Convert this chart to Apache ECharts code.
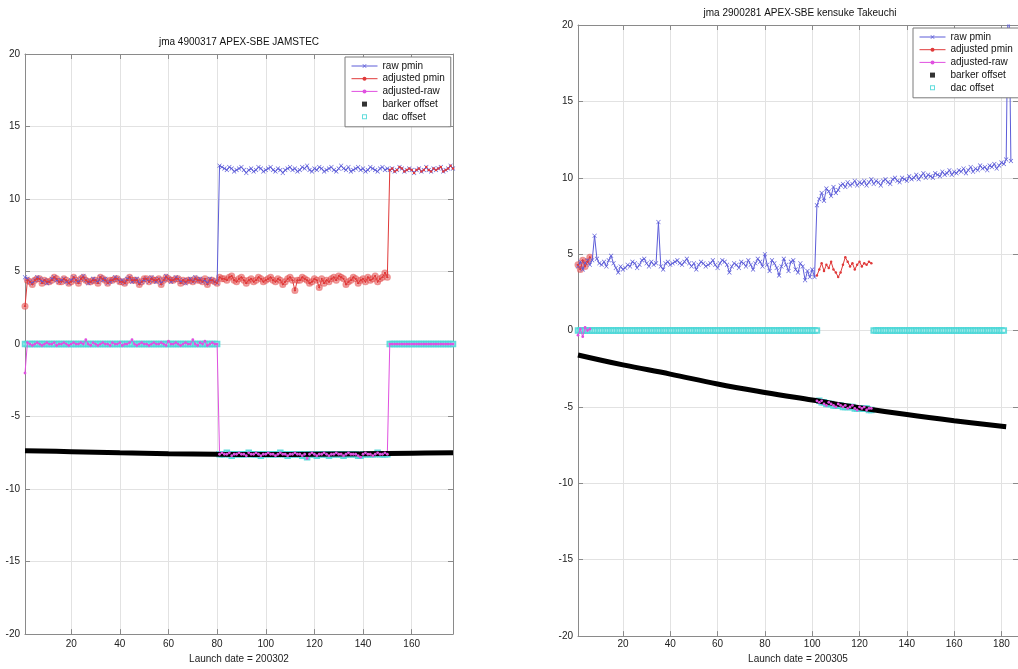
<!DOCTYPE html>
<html>
<head>
<meta charset="utf-8">
<script src="https://cdn.jsdelivr.net/npm/echarts@6/dist/echarts.min.js"></script>
<style>html,body{margin:0;padding:0;background:#fff;}#c{width:1018px;height:669px;}</style>
</head>
<body>
<div id="c"></div>
<script>
// ---------- Left panel: jma 4900317 (cycles 1..177) ----------
const L_title = 'jma 4900317 APEX-SBE JAMSTEC';
const L_xname = 'Launch date = 200302';
const L_xticks = [20, 40, 60, 80, 100, 120, 140, 160];
const L_raw = [
4.6,4.5,4.3,4.2,4.4,4.6,4.5,4.3,4.4,4.2,
4.3,4.5,4.6,4.4,4.3,4.4,4.5,4.3,4.2,4.4,
4.6,4.4,4.3,4.5,4.7,4.4,4.2,4.3,4.5,4.4,
4.3,4.6,4.4,4.5,4.2,4.3,4.4,4.6,4.5,4.3,
4.4,4.2,4.5,4.6,4.3,4.4,4.5,4.2,4.3,4.4,
4.5,4.3,4.6,4.4,4.3,4.5,4.2,4.4,4.7,4.5,
4.3,4.4,4.6,4.5,4.3,4.4,4.2,4.4,4.5,4.3,
4.6,4.4,4.5,4.3,4.4,4.2,4.5,4.4,4.3,4.2,
12.3,12.2,12.1,12.0,12.2,12.1,11.9,12.0,12.1,12.2,
12.0,11.8,12.0,12.1,11.9,12.0,12.2,12.1,11.9,12.0,
12.1,12.2,12.0,11.9,12.1,12.0,11.8,12.0,12.1,12.2,
12.0,12.1,11.9,12.0,12.2,12.1,12.3,12.0,11.9,12.1,
12.0,12.2,12.1,11.9,12.0,12.1,12.2,12.0,11.9,12.1,
12.3,12.1,12.0,12.2,11.9,12.0,12.1,12.2,12.0,12.1,
11.9,12.0,12.2,12.1,12.0,11.9,12.1,12.2,12.0,12.1,
12.0,12.1,11.9,12.0,12.2,12.1,11.9,12.0,12.1,12.0,
11.8,12.0,12.1,11.9,12.0,12.2,12.0,11.9,12.1,12.0,
12.1,12.2,11.9,12.0,12.1,12.3,12.1];
const L_adj = [
2.6,4.4,4.3,4.1,4.4,4.5,4.5,4.2,4.4,4.3,
4.3,4.4,4.6,4.5,4.3,4.3,4.5,4.4,4.2,4.3,
4.6,4.4,4.2,4.5,4.6,4.4,4.3,4.3,4.4,4.4,
4.2,4.6,4.5,4.4,4.2,4.4,4.4,4.5,4.5,4.3,
4.3,4.2,4.4,4.6,4.4,4.4,4.4,4.1,4.3,4.5,
4.5,4.3,4.5,4.4,4.4,4.5,4.1,4.4,4.6,4.5,
4.4,4.4,4.5,4.5,4.2,4.4,4.3,4.4,4.4,4.3,
4.5,4.4,4.4,4.3,4.5,4.1,4.4,4.4,4.3,4.2,
4.6,4.5,4.5,4.4,4.6,4.7,4.4,4.3,4.5,4.6,
4.4,4.2,4.4,4.5,4.3,4.4,4.6,4.5,4.3,4.4,
4.5,4.6,4.4,4.3,4.5,4.4,4.1,4.3,4.5,4.6,
4.4,3.7,4.4,4.4,4.6,4.5,4.4,4.2,4.3,4.5,
4.4,3.9,4.5,4.2,4.4,4.3,4.5,4.6,4.4,4.7,
4.6,4.5,4.1,4.3,4.4,4.6,4.5,4.2,4.4,4.5,
4.3,4.6,4.4,4.5,4.7,4.3,4.5,4.6,4.9,4.6,
12.0,12.1,11.9,12.0,12.2,12.1,11.9,12.0,12.1,12.0,
11.8,12.0,12.1,11.9,12.0,12.2,12.0,11.9,12.1,12.0,
12.1,12.2,11.9,12.0,12.1,12.3,12.1];
const L_diff = [
-2.0,0.1,0.0,-0.1,0.0,0.1,0.0,-0.1,0.0,0.1,
0.0,0.0,0.1,-0.1,0.0,0.0,0.1,0.0,-0.1,0.0,
0.1,0.0,0.0,0.1,0.0,0.3,0.0,-0.1,0.1,0.0,
-0.1,0.0,0.1,0.0,0.0,-0.1,0.1,0.0,0.0,0.1,
-0.1,0.0,0.0,0.1,0.3,0.0,-0.1,0.0,0.1,0.0,
0.0,-0.1,0.0,0.1,0.0,0.0,0.1,0.0,-0.1,0.2,
0.0,0.0,0.1,0.0,-0.1,0.0,0.1,0.0,0.0,0.3,
0.0,-0.1,0.1,0.0,0.2,-0.1,0.0,0.1,0.0,0.0,
-7.6,-7.5,-7.6,-7.6,-7.5,-7.7,-7.6,-7.6,-7.5,-7.6,
-7.6,-7.7,-7.5,-7.6,-7.6,-7.5,-7.6,-7.7,-7.6,-7.6,
-7.5,-7.6,-7.6,-7.7,-7.6,-7.5,-7.6,-7.6,-7.7,-7.6,
-7.6,-7.5,-7.6,-7.6,-7.7,-7.6,-7.9,-7.6,-7.5,-7.6,
-7.7,-7.6,-7.6,-7.5,-7.6,-7.7,-7.6,-7.6,-7.5,-7.6,
-7.6,-7.7,-7.6,-7.5,-7.6,-7.6,-7.6,-7.7,-7.8,-7.6,
-7.5,-7.6,-7.6,-7.7,-7.6,-7.5,-7.6,-7.6,-7.5,-7.6,
0,0,0,0,0,0,0,0,0,0,
0,0,0,0,0,0,0,0,0,0,
0,0,0,0,0,0,0];
const L_dac = [
0,0,0,0,0,0,0,0,0,0,
0,0,0,0,0,0,0,0,0,0,
0,0,0,0,0,0,0,0,0,0,
0,0,0,0,0,0,0,0,0,0,
0,0,0,0,0,0,0,0,0,0,
0,0,0,0,0,0,0,0,0,0,
0,0,0,0,0,0,0,0,0,0,
0,0,0,0,0,0,0,0,0,0,
-7.6,-7.6,-7.6,-7.5,-7.6,-7.7,-7.6,-7.6,-7.6,-7.6,
-7.6,-7.6,-7.5,-7.6,-7.6,-7.6,-7.6,-7.7,-7.6,-7.6,
-7.6,-7.6,-7.6,-7.6,-7.6,-7.5,-7.6,-7.6,-7.7,-7.6,
-7.6,-7.6,-7.6,-7.6,-7.7,-7.6,-7.8,-7.6,-7.6,-7.6,
-7.7,-7.6,-7.6,-7.6,-7.6,-7.7,-7.6,-7.6,-7.6,-7.6,
-7.6,-7.7,-7.6,-7.6,-7.6,-7.6,-7.6,-7.7,-7.7,-7.6,
-7.6,-7.6,-7.6,-7.6,-7.6,-7.5,-7.6,-7.6,-7.6,-7.6,
0,0,0,0,0,0,0,0,0,0,
0,0,0,0,0,0,0,0,0,0,
0,0,0,0,0,0,0];
const L_barker_x = [1, 20, 40, 60, 80, 100, 120, 140, 160, 177];
const L_barker_y = [-7.35, -7.42, -7.5, -7.56, -7.6, -7.62, -7.6, -7.57, -7.53, -7.5];

// ---------- Right panel: jma 2900281 (cycles 1..184) ----------
const R_title = 'jma 2900281 APEX-SBE kensuke Takeuchi';
const R_xname = 'Launch date = 200305';
const R_xticks = [20, 40, 60, 80, 100, 120, 140, 160, 180];
const R_raw = [
4.2,4.5,4.0,4.4,4.6,4.3,4.6,6.2,4.7,4.4,
4.3,4.5,4.2,4.6,4.9,4.4,4.1,3.8,4.2,4.0,
4.1,4.3,4.2,4.5,4.4,4.1,4.3,4.6,4.7,4.4,
4.2,4.5,4.3,4.4,7.1,4.2,4.0,4.4,4.5,4.3,
4.4,4.5,4.6,4.4,4.3,4.5,4.7,4.4,4.2,4.4,
4.0,4.3,4.5,4.4,4.2,4.3,4.4,4.6,4.3,4.1,
4.4,4.6,4.5,4.3,3.8,4.2,4.4,4.3,4.1,4.5,
4.4,4.2,4.6,4.3,4.0,4.4,4.7,4.5,4.2,5.0,
4.3,3.9,4.6,4.4,4.1,3.6,4.2,4.7,4.3,3.9,
4.5,4.6,4.0,3.8,4.4,4.2,3.3,3.9,3.5,4.0,
3.5,
8.2,8.6,9.0,8.5,9.3,9.1,8.8,9.4,9.0,9.2,
9.5,9.6,9.4,9.7,9.5,9.6,9.8,9.5,9.7,9.6,
9.8,9.5,9.7,9.9,9.6,9.8,9.7,9.5,9.8,9.9,
9.7,9.6,9.9,10.0,9.8,9.7,10.0,9.9,9.8,10.1,
9.9,10.0,10.2,9.9,10.1,10.3,10.0,10.2,10.1,10.0,
10.3,10.2,10.1,10.4,10.2,10.3,10.5,10.2,10.4,10.3,
10.5,10.4,10.6,10.3,10.5,10.7,10.4,10.6,10.5,10.8,
10.6,10.7,10.5,10.8,10.7,10.9,10.6,10.8,11.0,10.9,
11.2,24.0,11.1];
const R_adj_a = [4.3, 4.0, 4.6, 4.2, 4.5, 4.8];            // cycles 1..6
const R_adj_b = [3.6,4.0,4.4,3.9,4.3,4.1,4.5,4.0,3.8,3.5,
                 3.8,4.3,4.8,4.5,4.2,4.4,4.0,4.3,4.5,4.2,
                 4.4,4.3,4.5,4.4];                          // cycles 102..125
const R_diff_a = [-0.3, 0.1, -0.4, 0.2, 0.0, 0.1];         // cycles 1..6
const R_diff_b = [-4.6,-4.7,-4.6,-4.8,-4.9,-4.7,-4.8,-4.9,-5.0,-4.8,
                  -4.9,-5.0,-4.9,-5.1,-5.0,-4.9,-5.1,-5.2,-5.0,-5.1,
                  -5.0,-5.2,-5.1,-5.1];                     // cycles 102..125
const R_dac_a = [
0,0,0,0,0,0,0,0,0,0, 0,0,0,0,0,0,0,0,0,0,
0,0,0,0,0,0,0,0,0,0, 0,0,0,0,0,0,0,0,0,0,
0,0,0,0,0,0,0,0,0,0, 0,0,0,0,0,0,0,0,0,0,
0,0,0,0,0,0,0,0,0,0, 0,0,0,0,0,0,0,0,0,0,
0,0,0,0,0,0,0,0,0,0, 0,0,0,0,0,0,0,0,0,0,
0,0];                                                       // cycles 1..102
const R_dac_b = [-4.6,-4.7,-4.7,-4.8,-4.8,-4.8,-4.9,-4.9,-4.9,-4.9,
                 -5.0,-5.0,-5.0,-5.0,-5.0,-5.1,-5.1,-5.1,-5.1,-5.1,
                 -5.1,-5.2,-5.2];                           // cycles 103..125
const R_dac_c = [
0,0,0,0,0,0,0,0,0,0, 0,0,0,0,0,0,0,0,0,0,
0,0,0,0,0,0,0,0,0,0, 0,0,0,0,0,0,0,0,0,0,
0,0,0,0,0,0,0,0,0,0, 0,0,0,0,0,0];                          // cycles 126..181
const R_barker_x = [1, 20, 40, 60, 80, 100, 120, 140, 160, 182];
const R_barker_y = [-1.6, -2.25, -2.85, -3.5, -4.05, -4.55, -5.05, -5.5, -5.9, -6.3];

const Y_MIN = -20, Y_MAX = 20, Y_STEP = 5;
const NAMES = ['raw pmin', 'adjusted pmin', 'adjusted-raw', 'barker offset', 'dac offset'];

// ---------- build ----------
const pairs = (arr, start) => arr.map((v, i) => [start + i, v]);
const zip = (xs, ys) => xs.map((x, i) => [x, ys[i]]);
const gap = (x) => [x, null];

const C_BLUE = '#5c5cd8', C_RED = '#e03a3a', C_MAG = '#e050e0', C_CYAN = '#48d6d6', C_AX = '#8a8a8a';
const XSYM = 'path://M0,1L1,0L5,4L9,0L10,1L6,5L10,9L9,10L5,6L1,10L0,9L4,5Z';
const SQ = 'path://M0,0L10,0L10,10L0,10Z';
const HSQ = 'path://M0,0L10,0L10,10L0,10Z M2,2L2,8L8,8L8,2Z';
const FONT = 'Liberation Sans, Arial, sans-serif';

function xAxes(gi, max, ticks, name, labelMargin) {
  return [{
    gridIndex: gi, type: 'value', min: 1, max: max, position: 'bottom',
    axisLine: { show: true, onZero: false, lineStyle: { color: C_AX } },
    axisTick: { show: true, inside: true, length: 5, customValues: ticks, lineStyle: { color: C_AX } },
    axisLabel: { customValues: ticks, fontSize: 10, color: '#222', margin: labelMargin, fontFamily: FONT },
    splitLine: { show: true, lineStyle: { color: '#e2e2e2', width: 1 } },
    name: name, nameLocation: 'middle', nameGap: 17,
    nameTextStyle: { fontSize: 10, color: '#222', fontFamily: FONT }
  }, {
    gridIndex: gi, type: 'value', min: 1, max: max, position: 'top',
    axisLine: { show: true, onZero: false, lineStyle: { color: C_AX } },
    axisTick: { show: true, inside: true, length: 5, customValues: ticks, lineStyle: { color: C_AX } },
    axisLabel: { show: false }, splitLine: { show: false }
  }];
}
function yAxes(gi, labelMargin) {
  return [{
    gridIndex: gi, type: 'value', min: Y_MIN, max: Y_MAX, interval: Y_STEP, position: 'left',
    axisLine: { show: true, onZero: false, lineStyle: { color: C_AX } },
    axisTick: { show: true, inside: true, length: 5, lineStyle: { color: C_AX } },
    axisLabel: { fontSize: 10, color: '#222', margin: labelMargin, fontFamily: FONT },
    splitLine: { show: true, lineStyle: { color: '#e2e2e2', width: 1 } }
  }, {
    gridIndex: gi, type: 'value', min: Y_MIN, max: Y_MAX, interval: Y_STEP, position: 'right',
    axisLine: { show: true, onZero: false, lineStyle: { color: C_AX } },
    axisTick: { show: true, inside: true, length: 5, lineStyle: { color: C_AX } },
    axisLabel: { show: false }, splitLine: { show: false }
  }];
}

function panelSeries(xi, yi, raw, adj, circ, diff, barker, dac) {
  const base = { xAxisIndex: xi, yAxisIndex: yi, animation: false, connectNulls: false, clip: true };
  return [
    Object.assign({}, base, { name: NAMES[0], type: 'line', data: raw, symbol: XSYM, symbolSize: 4.5,
      showAllSymbol: true, itemStyle: { color: C_BLUE }, lineStyle: { color: C_BLUE, width: 1 } }),
    Object.assign({}, base, { name: 'adj-circles', type: 'scatter', data: circ, symbol: 'emptyCircle', symbolSize: 5,
      itemStyle: { color: C_RED, borderColor: C_RED, borderWidth: 0.8, opacity: 0.55 } }),
    Object.assign({}, base, { name: NAMES[1], type: 'line', data: adj, symbol: 'circle', symbolSize: 2.5,
      showAllSymbol: true, itemStyle: { color: C_RED }, lineStyle: { color: C_RED, width: 1 } }),
    Object.assign({}, base, { name: NAMES[2], type: 'line', data: diff, symbol: 'circle', symbolSize: 2.8,
      showAllSymbol: true, itemStyle: { color: C_MAG }, lineStyle: { color: C_MAG, width: 1 } }),
    Object.assign({}, base, { name: 'barker-line', type: 'line', data: barker, symbol: 'none', smooth: 0.4,
      itemStyle: { color: '#000' }, lineStyle: { color: '#000', width: 5 } }),
    Object.assign({}, base, { name: NAMES[3], type: 'scatter', data: [], symbol: SQ, symbolSize: 5,
      itemStyle: { color: '#000' } }),
    Object.assign({}, base, { name: NAMES[4], type: 'scatter', data: dac, symbol: 'emptyRect', symbolSize: 4.5,
      itemStyle: { color: C_CYAN, borderColor: C_CYAN, borderWidth: 1, opacity: 0.85 } })
  ];
}

const legendData = [
  { name: NAMES[0] }, { name: NAMES[1] }, { name: NAMES[2] },
  { name: NAMES[3], icon: SQ, itemStyle: { color: '#000' } },
  { name: NAMES[4], icon: HSQ, itemStyle: { color: C_CYAN, borderWidth: 0 } }
];
function legend(left, top) {
  return {
    data: legendData, orient: 'vertical', left: left, top: top, itemWidth: 26, itemHeight: 5, itemGap: 2.7,
    padding: [4, 6, 5, 6], borderColor: '#7a7a7a', borderWidth: 1, backgroundColor: '#fff',
    symbolKeepAspect: true, lineStyle: { width: 1 },
    textStyle: { fontSize: 10, color: '#111', fontFamily: FONT }, selectedMode: false
  };
}

// left panel data
const L_rawD = pairs(L_raw, 1);
const L_adjD = pairs(L_adj, 1);
const L_circD = pairs(L_adj.slice(0, 150), 1);
const L_diffD = pairs(L_diff, 1);
const L_dacD = pairs(L_dac, 1);
const L_barD = zip(L_barker_x, L_barker_y);
// right panel data
const R_rawD = pairs(R_raw, 1);
const R_adjD = pairs(R_adj_a, 1).concat([gap(50)], pairs(R_adj_b, 102));
const R_circD = pairs(R_adj_a, 1);
const R_diffD = pairs(R_diff_a, 1).concat([gap(50)], pairs(R_diff_b, 102));
const R_dacD = pairs(R_dac_a, 1).concat(pairs(R_dac_b, 103), pairs(R_dac_c, 126));
const R_barD = zip(R_barker_x, R_barker_y);

const chart = echarts.init(document.getElementById('c'), null, { renderer: 'canvas' });
chart.setOption({
  animation: false,
  backgroundColor: '#fff',
  textStyle: { fontFamily: FONT },
  title: [
    { text: L_title, left: 239, top: 37, textAlign: 'center', padding: 0,
      textStyle: { fontSize: 10, fontWeight: 'normal', color: '#111', fontFamily: FONT } },
    { text: R_title, left: 800, top: 8, textAlign: 'center', padding: 0,
      textStyle: { fontSize: 10, fontWeight: 'normal', color: '#111', fontFamily: FONT } }
  ],
  legend: [legend(345, 57), legend(913, 28)],
  grid: [
    { left: 25, top: 54, width: 428, height: 588, containLabel: false },
    { left: 578, top: 25, width: 444, height: 617, containLabel: false }
  ],
  xAxis: xAxes(0, 177, L_xticks, L_xname, 5).concat(xAxes(1, 187, R_xticks, R_xname, 3)),
  yAxis: yAxes(0, 5).concat(yAxes(1, 5)),
  series: panelSeries(0, 0, L_rawD, L_adjD, L_circD, L_diffD, L_barD, L_dacD)
    .concat(panelSeries(2, 2, R_rawD, R_adjD, R_circD, R_diffD, R_barD, R_dacD))
});
</script>
</body>
</html>
